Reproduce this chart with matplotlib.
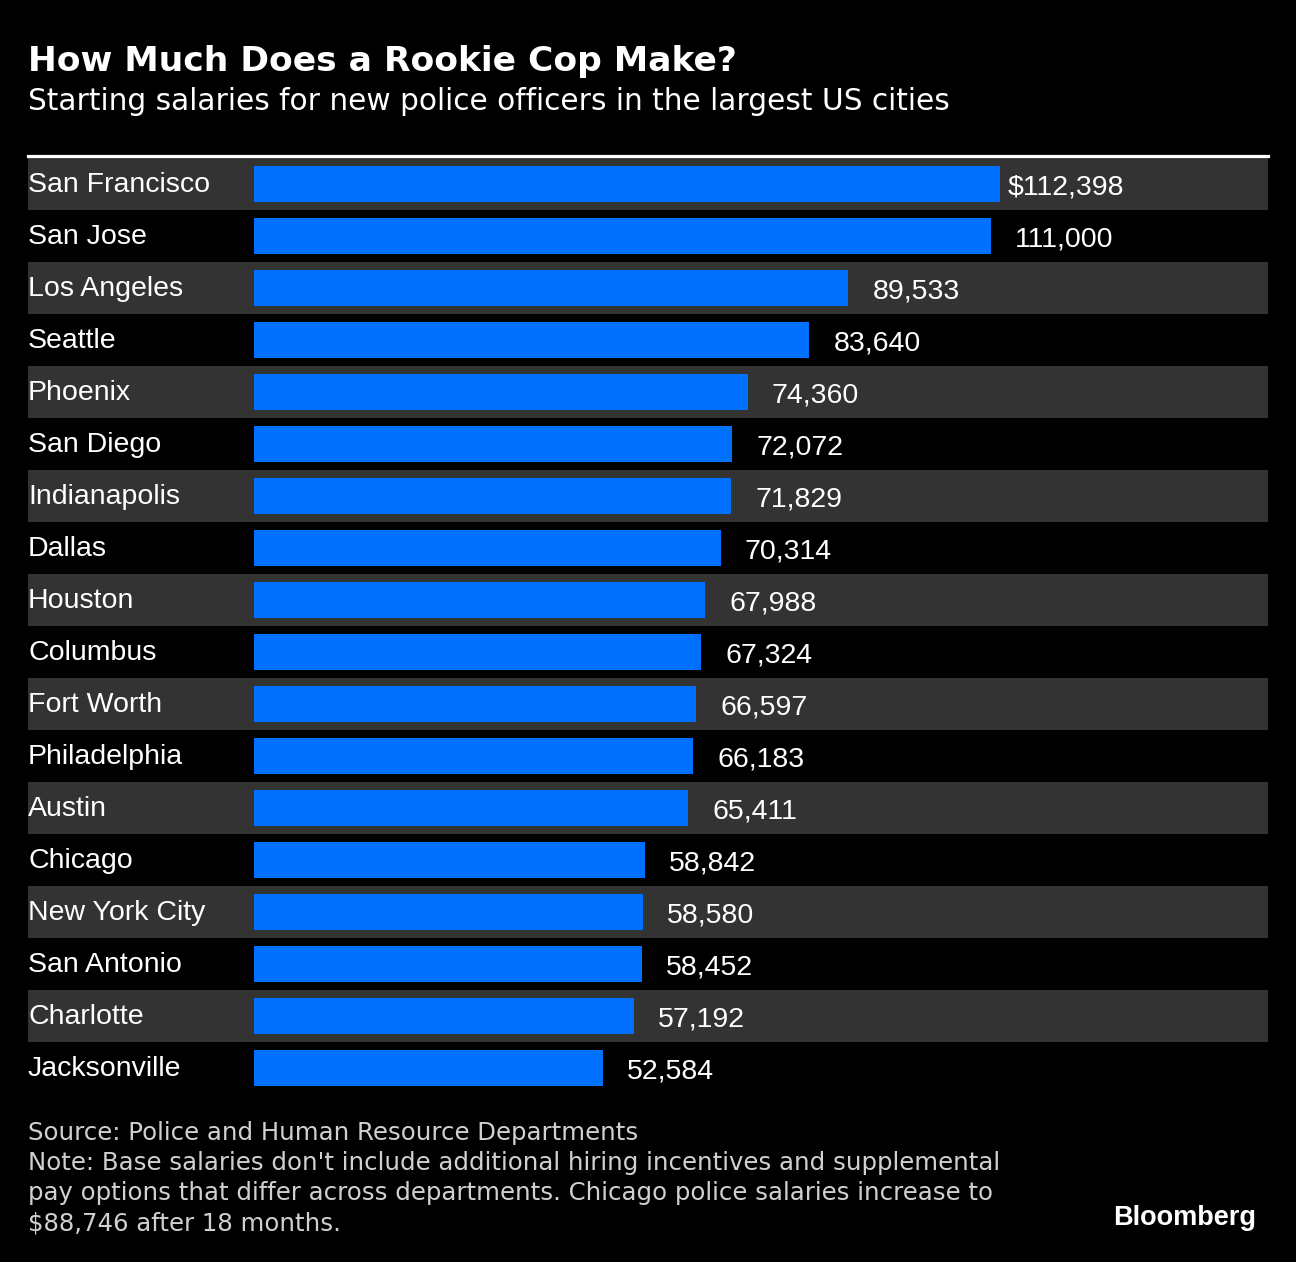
import matplotlib
matplotlib.use("Agg")
import matplotlib.pyplot as plt
from matplotlib.lines import Line2D

cities = ["San Francisco", "San Jose", "Los Angeles", "Seattle", "Phoenix",
          "San Diego", "Indianapolis", "Dallas", "Houston", "Columbus",
          "Fort Worth", "Philadelphia", "Austin", "Chicago", "New York City",
          "San Antonio", "Charlotte", "Jacksonville"]
salaries = [112398, 111000, 89533, 83640, 74360, 72072, 71829, 70314, 67988,
            67324, 66597, 66183, 65411, 58842, 58580, 58452, 57192, 52584]

title = "How Much Does a Rookie Cop Make?"
subtitle = "Starting salaries for new police officers in the largest US cities"
footer_lines = [
    "Source: Police and Human Resource Departments",
    "Note: Base salaries don't include additional hiring incentives and supplemental",
    "pay options that differ across departments. Chicago police salaries increase to",
    "$88,746 after 18 months.",
]

W, H = 1296, 1262
DPI = 100
BG = "#000000"
BAND = "#333333"
BAR = "#0070ff"
SANS = ["Liberation Sans", "DejaVu Sans"]

fig = plt.figure(figsize=(W / DPI, H / DPI), dpi=DPI, facecolor=BG)

def fx(px):
    return px / W

def fy(py):
    return 1 - py / H

left_px, right_px, top_px, bot_px = 28, 1268, 158, 1094
ax = fig.add_axes([fx(left_px), fy(bot_px), fx(right_px - left_px), (bot_px - top_px) / H])
ax.set_facecolor(BG)

zero_px, ref_px = 254, 1000
ppu = (ref_px - zero_px) / salaries[0]
xmin = (left_px - zero_px) / ppu
xmax = (right_px - zero_px) / ppu
n = len(cities)
ax.set_xlim(xmin, xmax)
ax.set_ylim(n - 0.5, -0.5)

for i in range(n):
    if i % 2 == 0:
        ax.axhspan(i - 0.5, i + 0.5, color=BAND, lw=0, zorder=0)

ax.barh(range(n), salaries, height=0.69, color=BAR, zorder=2)

for i, (c, v) in enumerate(zip(cities, salaries)):
    ax.text(0.0, i + 0.02, c, transform=ax.get_yaxis_transform(), ha="left", va="center",
            color="white", fontsize=20.5, family=SANS)
    if i == 0:
        lab, off = f"${v:,}", 5.5
    else:
        lab, off = f"{v:,}", 17.5
    ax.annotate(lab, (v, i), xytext=(off, -2.5), textcoords="offset points",
                ha="left", va="center", color="white", fontsize=20.5, family=SANS)

ax.set_xticks([])
ax.set_yticks([])
for s in ax.spines.values():
    s.set_visible(False)

fig.add_artist(Line2D([fx(left_px), fx(right_px)], [fy(155.5), fy(155.5)],
                      color="white", lw=2.3, transform=fig.transFigure))

fig.text(fx(28), fy(62), title, color="white", fontsize=24.8, fontweight="bold",
         ha="left", va="center", family="DejaVu Sans")
fig.text(fx(28), fy(101), subtitle, color="white", fontsize=21.3,
         ha="left", va="center", family="DejaVu Sans")

for k, line in enumerate(footer_lines):
    fig.text(fx(28), fy(1133 + 30 * k), line, color="#d0d0d0", fontsize=17.6,
             ha="left", va="center", family="DejaVu Sans")

fig.text(fx(1256), fy(1218), "Bloomberg", color="white", fontsize=19.5, fontweight="bold",
         ha="right", va="center", family=SANS)

fig.savefig("out.png", dpi=DPI, facecolor=BG)
